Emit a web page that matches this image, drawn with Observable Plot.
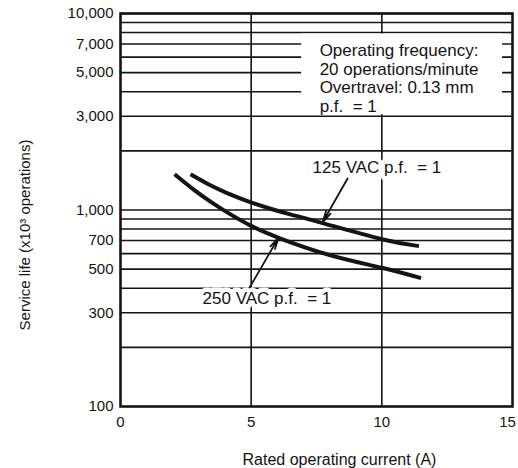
<!DOCTYPE html>
<html><head><meta charset="utf-8">
<script src="https://cdn.jsdelivr.net/npm/d3@7"></script>
<script src="https://cdn.jsdelivr.net/npm/@observablehq/plot@0.6"></script>
<style>body{margin:0;background:#fff}</style>
</head><body><div id="chart"></div>
<script>
// Series data
const current125 = [2.68, 3.44, 4.08, 4.94, 5.74, 6.5, 7.77, 10, 11.42];
const life125    = [1520, 1335, 1220, 1100, 1015, 950, 855, 710, 655];
const current250 = [2.07, 2.8, 3.5, 4.1, 5.0, 6.1, 8.0, 10, 11.5];
const life250    = [1520, 1270, 1090, 970, 830, 718, 590, 508, 450];

// Axes / grid
const xTicks = [0, 5, 10];
const xTickLast = [15];
const yTicks = [100, 300, 500, 700, 1000, 3000, 5000, 7000, 10000];
const gridLife = [200, 300, 400, 500, 600, 700, 800, 900, 1000, 2000, 3000, 4000, 5000, 6000, 7000, 8000, 9000, 10000];
const gridCurrent = [5, 10];
const xTitle = "Rated operating current (A)";
const yTitle = "Service life (x10³ operations)";

// Note box
const noteText = "Operating frequency:\n20 operations/minute\nOvertravel: 0.13 mm\np.f.\u00a0 = 1";
const noteBox = [{x1: 6.93, x2: 14.62, y1: 3000, y2: 8000}];
const notePos = [{x: 7.62, y: 7040}];

// Curve labels and arrows
const labels = [
  {text: "125 VAC p.f.\u00a0 = 1", x: 7.35, y: 1645},
  {text: "250 VAC p.f.\u00a0 = 1", x: 3.14, y: 355}
];
const arrows = [
  {x1: 8.69, y1: 1446, x2: 7.73, y2: 864},
  {x1: 4.94, y1: 403, x2: 6.05, y2: 724}
];

const series = [
  ...current125.map((c, i) => ({series: "125", current: c, life: life125[i]})),
  ...current250.map((c, i) => ({series: "250", current: c, life: life250[i]}))
];

const fmt = d3.format(",");
const ink = "#141414";
const chart = Plot.plot({
  width: 518, height: 468,
  marginLeft: 120, marginRight: 6, marginTop: 13, marginBottom: 62,
  style: {fontFamily: "'Liberation Sans', Arial, Helvetica, sans-serif", background: "#fff", color: ink, fontSize: "15px"},
  x: {domain: [0, 15], axis: null},
  y: {type: "log", domain: [100, 10000], axis: null},
  marks: [
    Plot.ruleY(gridLife, {stroke: ink, strokeWidth: 1.6}),
    Plot.ruleX(gridCurrent, {stroke: ink, strokeWidth: 1.6}),
    Plot.rect(noteBox, {x1: "x1", x2: "x2", y1: "y1", y2: "y2", fill: "white", insetTop: 1.5, insetBottom: 1.5}),
    Plot.text(notePos, {x: "x", y: "y", text: () => noteText, textAnchor: "start", lineAnchor: "top", lineHeight: 1.08, fontSize: 17, fill: ink}),
    Plot.line(series, {x: "current", y: "life", z: "series", curve: "natural", stroke: ink, strokeWidth: 4, strokeLinecap: "butt"}),
    Plot.text(labels, {x: "x", y: "y", text: "text", textAnchor: "start", fontSize: 17, fill: ink, stroke: "white", strokeWidth: 9, paintOrder: "stroke"}),
    Plot.arrow(arrows, {x1: "x1", y1: "y1", x2: "x2", y2: "y2", stroke: ink, strokeWidth: 1.8, headLength: 10, headAngle: 25}),
    Plot.frame({stroke: ink, strokeWidth: 2.6}),
    Plot.text(yTicks, {y: d => d, text: d => fmt(d), frameAnchor: "left", textAnchor: "end", dx: -7, fontSize: 15, fill: ink}),
    Plot.text(xTicks, {x: d => d, text: d => String(d), frameAnchor: "bottom", lineAnchor: "top", dy: 10, fontSize: 15, fill: ink}),
    Plot.text(xTickLast, {x: d => d, text: d => String(d), frameAnchor: "bottom", lineAnchor: "top", dy: 10, dx: -5, fontSize: 15, fill: ink}),
    Plot.text([yTitle], {text: d => d, frameAnchor: "left", textAnchor: "middle", dx: -95, dy: 25, rotate: -90, fontSize: 15, fill: ink}),
    Plot.text([xTitle], {text: d => d, frameAnchor: "bottom", textAnchor: "middle", dx: 23, dy: 58, fontSize: 16, fill: ink})
  ]
});
document.getElementById("chart").appendChild(chart);
</script>
</body></html>
